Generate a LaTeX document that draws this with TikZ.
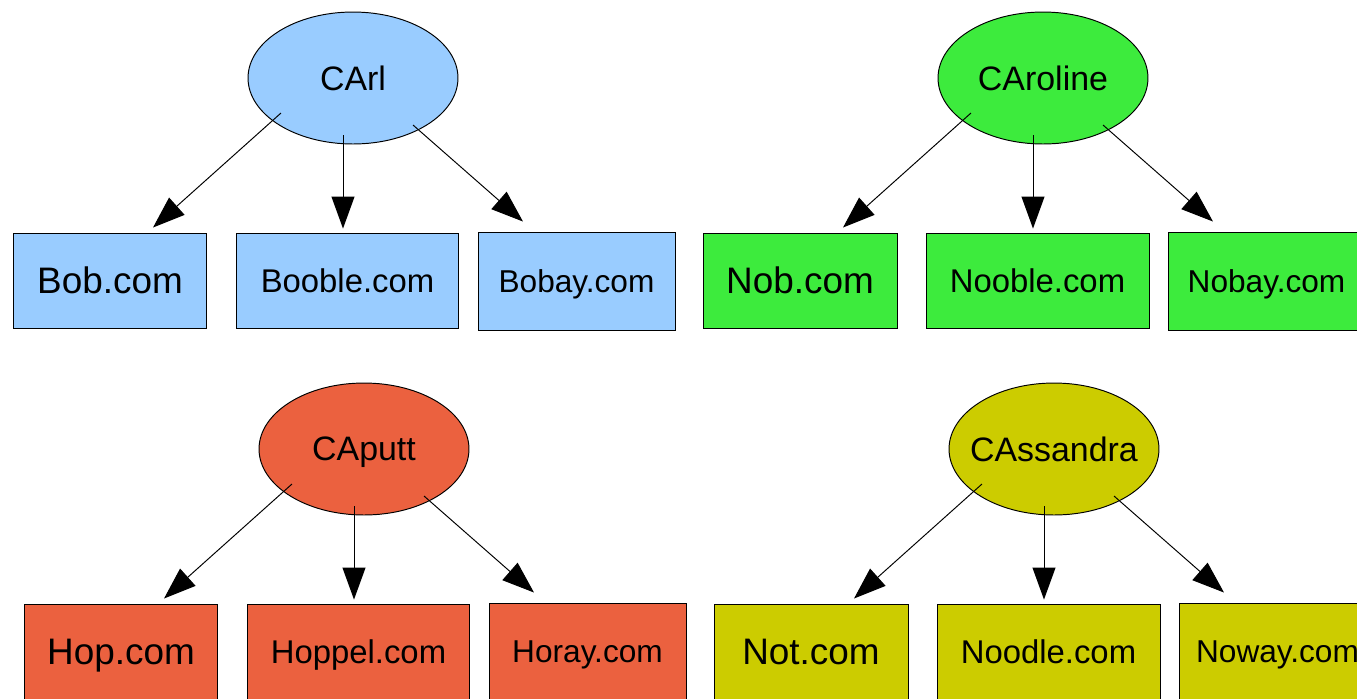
\documentclass[tikz,border=0pt]{standalone}
\usepackage{fontspec}
\setmainfont{Liberation Sans}
\usetikzlibrary{shapes.geometric}
\usetikzlibrary{arrows.meta}
\definecolor{carlblue}{HTML}{99CCFF}
\definecolor{carolgreen}{HTML}{3DEB3D}
\definecolor{puttred}{HTML}{EB613F}
\definecolor{cassolive}{HTML}{CCCC00}

\begin{document}
\begin{tikzpicture}[x=0.02cm,y=-0.02cm,
                      line width=0.55pt,
                      ca node/.style={ellipse,draw,minimum width=4.2cm,minimum height=2.64cm,inner ysep=0pt,inner xsep=-1cm,text depth=0pt,font=\fontsize{19.3}{23}\selectfont},
                      site node/.style={rectangle,draw,minimum height=1.9cm,inner sep=0pt,text depth=0pt},
                      first site/.style={site node,minimum width=3.88cm,font=\fontsize{21}{25}\selectfont},
                      second site/.style={site node,minimum width=4.46cm,font=\fontsize{18.7}{22}\selectfont},
                      third site/.style={site node,minimum width=3.94cm,minimum height=1.96cm,font=\fontsize{18}{22}\selectfont},
                      link/.style={-{Triangle[length=0.64cm,width=0.46cm]}}]

        \clip (0,0) rectangle (1357,698);
        \fill[white] (0,0) rectangle (1357,698);

        % CArl
        \node[ca node,fill=carlblue] (carl) at (353,78) {CArl};
        \node[first site,fill=carlblue] (bob) at (110,280.5) {Bob.com};
        \node[second site,fill=carlblue] (booble) at (347.5,280.5) {Booble.com};
        \node[third site,fill=carlblue] (bobay) at (576.5,281) {Bobay.com};

        % CAroline
        \node[ca node,fill=carolgreen] (caroline) at (1043,78) {CAroline};
        \node[first site,fill=carolgreen] (nob) at (800,280.5) {Nob.com};
        \node[second site,fill=carolgreen] (nooble) at (1037.5,280.5) {Nooble.com};
        \node[third site,fill=carolgreen] (nobay) at (1266.5,281) {Nobay.com};

        % CAputt
        \node[ca node,fill=puttred] (caputt) at (364,449) {CAputt};
        \node[first site,fill=puttred] (hop) at (121,651.5) {Hop.com};
        \node[second site,fill=puttred] (hoppel) at (358.5,651.5) {Hoppel.com};
        \node[third site,fill=puttred] (horay) at (587.5,652) {Horay.com};

        % CAssandra
        \node[ca node,fill=cassolive] (cassandra) at (1054,449) {CAssandra};
        \node[first site,fill=cassolive] (not) at (811,651.5) {Not.com};
        \node[second site,fill=cassolive] (noodle) at (1048.5,651.5) {Noodle.com};
        \node[third site,fill=cassolive] (noway) at (1277.5,652) {Noway.com};

        \path[link]
        ([shift={(-72,35)}]carl.center) edge ([shift={(43,-5)}]bob.north)
        ([shift={(-10,57)}]carl.center) edge ([shift={(-4.5,-4)}]booble.north)
        ([shift={(60,47)}]carl.center) edge ([shift={(-53.5,-10)}]bobay.north)
        ([shift={(-72,35)}]caroline.center) edge ([shift={(43,-5)}]nob.north)
        ([shift={(-10,57)}]caroline.center) edge ([shift={(-4.5,-4)}]nooble.north)
        ([shift={(60,47)}]caroline.center) edge ([shift={(-53.5,-10)}]nobay.north)
        ([shift={(-72,35)}]caputt.center) edge ([shift={(43,-5)}]hop.north)
        ([shift={(-10,57)}]caputt.center) edge ([shift={(-4.5,-4)}]hoppel.north)
        ([shift={(60,47)}]caputt.center) edge ([shift={(-53.5,-10)}]horay.north)
        ([shift={(-72,35)}]cassandra.center) edge ([shift={(43,-5)}]not.north)
        ([shift={(-10,57)}]cassandra.center) edge ([shift={(-4.5,-4)}]noodle.north)
        ([shift={(60,47)}]cassandra.center) edge ([shift={(-53.5,-10)}]noway.north)
        ;

\end{tikzpicture}
\end{document}
